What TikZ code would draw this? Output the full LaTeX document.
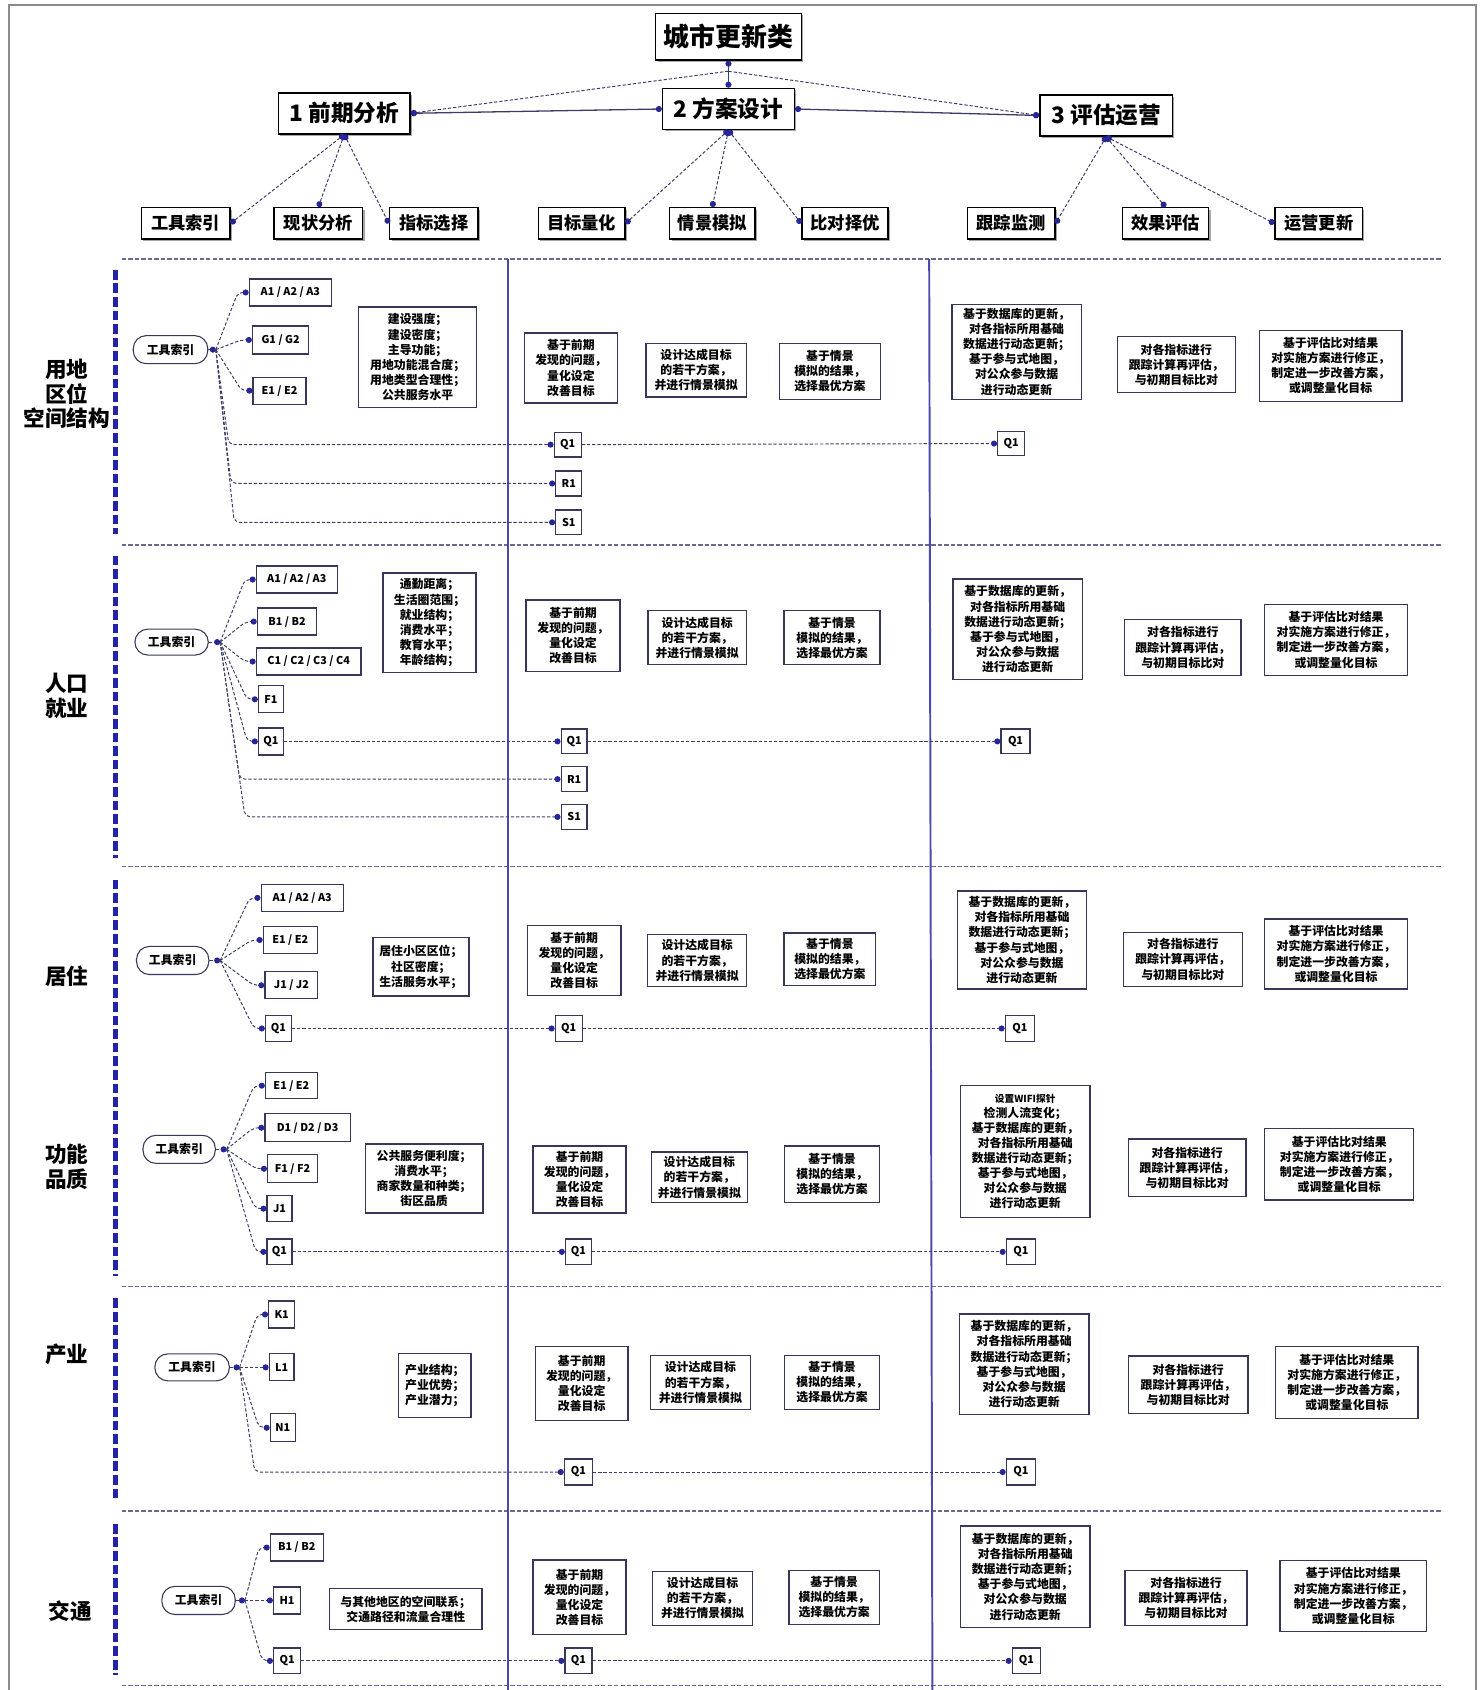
\documentclass[tikz,border=0pt]{standalone}
\usepackage{fontspec}
\setmainfont{Noto Sans CJK SC}
\usetikzlibrary{arrows.meta,shadows}

\definecolor{dotcol}{RGB}{38,38,150}
\definecolor{linkcol}{RGB}{60,60,105}
\definecolor{barcol}{RGB}{35,35,165}
\definecolor{colcol}{RGB}{75,75,175}
\definecolor{rulecol}{RGB}{105,105,145}
\definecolor{boxcol}{RGB}{55,55,90}

\newcommand{\goaltext}{基于前期\\发现的问题，\\量化设定\\改善目标}
\newcommand{\plantext}{设计达成目标\\的若干方案，\\并进行情景模拟}
\newcommand{\picktext}{基于情景\\模拟的结果，\\选择最优方案}
\newcommand{\datatext}{基于数据库的更新，\\对各指标所用基础\\数据进行动态更新；\\基于参与式地图，\\对公众参与数据\\进行动态更新}
\newcommand{\evaltext}{对各指标进行\\跟踪计算再评估，\\与初期目标比对}
\newcommand{\fixtext}{基于评估比对结果\\对实施方案进行修正，\\制定进一步改善方案，\\或调整量化目标}

\tikzset{
  Bead/.tip={Circle[length=2.8pt,color=dotcol]},
  sz/.style 2 args={minimum width=#1*0.5pt,minimum height=#2*0.5pt},
  link/.style={draw=linkcol,line width=0.45pt,dash pattern=on 1.5pt off 0.9pt,rounded corners=2.5pt},
  hline/.style={draw=linkcol,line width=0.6pt},
  headbox/.style={draw=black,line width=0.7pt,fill=white,
    drop shadow={shadow xshift=0.9pt,shadow yshift=-0.9pt,fill=black!35,opacity=1}},
  titlebox/.style={headbox,font=\bfseries\fontsize{12}{14}\selectfont},
  phasebox/.style={headbox,font=\bfseries\fontsize{10.5}{12}\selectfont},
  stagebox/.style={headbox,font=\bfseries\fontsize{8}{10}\selectfont},
  sectlabel/.style={font=\bfseries\fontsize{10}{11.5}\selectfont},
  toolpill/.style={draw=boxcol,line width=0.5pt,rounded corners=6pt,font=\bfseries\fontsize{5.5}{7}\selectfont},
  codebox/.style={draw=boxcol,line width=0.6pt,font=\bfseries\fontsize{5}{6}\selectfont},
  textbox/.style={draw=boxcol,line width=0.6pt,font=\bfseries\fontsize{5.5}{7}\selectfont},
  sectbar/.style={draw=barcol,line width=2.2pt,dash pattern=on 4.5pt off 1.8pt},
  sepline/.style={draw=rulecol,line width=0.6pt,dash pattern=on 2pt off 1pt},
  colline/.style={draw=colcol,line width=0.9pt}
}
\tikzstyle{every node}=[inner sep=1pt,align=center]

\begin{document}
\begin{tikzpicture}[x=0.5pt,y=-0.5pt]
    \useasboundingbox (0,0) rectangle (1372,1566);
    \draw[black!45,line width=1pt] (8,1566) -- (8,5) -- (1368,5) -- (1368,1566);

    % header
    \node[titlebox,sz={135}{43}] (top) at (675,34) {城市更新类};
    \node[phasebox,sz={122}{38}] (p1) at (319,105) {1 前期分析};
    \node[phasebox,sz={122}{38}] (p2) at (675,101) {2 方案设计};
    \node[phasebox,sz={123}{38}] (p3) at (1025,107) {3 评估运营};
    \node[stagebox,sz={82}{29}] (s1) at (172,207) {工具索引};
    \node[stagebox,sz={82}{29}] (s2) at (295,207) {现状分析};
    \node[stagebox,sz={82}{29}] (s3) at (402,207) {指标选择};
    \node[stagebox,sz={80}{29}] (s4) at (539,207) {目标量化};
    \node[stagebox,sz={79}{29}] (s5) at (660,207) {情景模拟};
    \node[stagebox,sz={80}{29}] (s6) at (783,207) {比对择优};
    \node[stagebox,sz={81}{29}] (s7) at (937,207) {跟踪监测};
    \node[stagebox,sz={80}{29}] (s8) at (1080,207) {效果评估};
    \node[stagebox,sz={81}{29}] (s9) at (1222,207) {运营更新};
    \coordinate (tj) at (675,66);
    \draw[hline,Bead-] (top.south) -- (tj);
    \draw[hline,-Bead] (tj) -- (p2.north);
    \draw[link,-Bead] (tj) -- (p1.east);
    \draw[link,-Bead] (tj) -- (p3.west);
    \draw[hline,Bead-Bead] (p1.east) -- (p2.west);
    \draw[hline,Bead-Bead] (p2.east) -- (p3.west);
    \draw[link,Bead-Bead] (p1.south) -- (s1.east);
    \draw[link,Bead-Bead] (p1.south) -- (s2.north);
    \draw[link,Bead-Bead] (p1.south) -- (s3.west);
    \draw[link,Bead-Bead] (p2.south) -- (s4.east);
    \draw[link,Bead-Bead] (p2.south) -- (s5.north);
    \draw[link,Bead-Bead] (p2.south) -- (s6.west);
    \draw[link,Bead-Bead] (p3.south) -- (s7.east);
    \draw[link,Bead-Bead] (p3.south) -- (s8.north);
    \draw[link,Bead-Bead] (p3.south) -- (s9.west);

    % frame of the table
    \draw[sepline] (113,240) -- (1335,240);
    \draw[sepline] (113,505) -- (1337,505);
    \draw[sepline] (113,803) -- (1337,803);
    \draw[sepline] (113,1192) -- (1337,1192);
    \draw[sepline] (113,1400) -- (1337,1400);
    \draw[sepline] (113,1562) -- (1337,1562);
    \draw[colline] (471,240) -- (471,1566);
    \draw[colline] (861,240) -- (864,1566);
    \draw[sectbar] (107,250) -- (107,495);
    \draw[sectbar] (107,515) -- (107,795);
    \draw[sectbar] (107,815) -- (107,1182);
    \draw[sectbar] (107,1203) -- (107,1390);
    \draw[sectbar] (107,1412) -- (107,1552);

    % 用地 区位 空间结构
    \node[sectlabel] (l1) at (62,365) {用地\\区位\\空间结构};
    \node[toolpill,sz={69}{26}] (g1) at (158,324) {工具索引};
    \coordinate (g1h) at (200,324);
    \node[codebox,sz={76}{25}] (g1a) at (269,271) {A1 / A2 / A3};
    \node[codebox,sz={52}{26}] (g1g) at (260,315) {G1 / G2};
    \node[codebox,sz={49}{25}] (g1e) at (259,362) {E1 / E2};
    \node[textbox,sz={109}{93}] (g1i) at (387,331) {建设强度；\\建设密度；\\主导功能；\\用地功能混合度；\\用地类型合理性；\\公共服务水平};
    \node[codebox,sz={25}{23}] (g1qm) at (526,412) {Q1};
    \node[codebox,sz={24}{23}] (g1r) at (527,448) {R1};
    \node[codebox,sz={24}{23}] (g1s) at (527,484) {S1};
    \node[codebox,sz={25}{22}] (g1qr) at (937,411) {Q1};
    \node[textbox,sz={86}{65}] (g1m1) at (529,341) {\goaltext};
    \node[textbox,sz={93}{50}] (g1m2) at (645,343) {\plantext};
    \node[textbox,sz={94}{52}] (g1m3) at (769,344) {\picktext};
    \node[textbox,sz={120}{88}] (g1r1) at (942,326) {\datatext};
    \node[textbox,sz={109}{52}] (g1r2) at (1090,338) {\evaltext};
    \node[textbox,sz={132}{66}] (g1r3) at (1233,339) {\fixtext};
    \draw[link,-Bead] (g1.east) -- (g1h);
    \draw[link,-Bead] (g1h) -- ([xshift=-5pt]g1a.west) -- (g1a.west);
    \draw[link,-Bead] (g1h) -- ([xshift=-5pt]g1g.west) -- (g1g.west);
    \draw[link,-Bead] (g1h) -- ([xshift=-5pt]g1e.west) -- (g1e.west);
    \draw[link,-Bead] (g1h) -- ([xshift=6pt]g1h |- g1qm.west) -- (g1qm.west);
    \draw[link,-Bead] (g1h) -- ([xshift=7pt]g1h |- g1r.west) -- (g1r.west);
    \draw[link,-Bead] (g1h) -- ([xshift=8.5pt]g1h |- g1s.west) -- (g1s.west);
    \draw[link,-Bead] (g1qm.east) -- (g1qr.west);

    % 人口 就业
    \node[sectlabel] (l2) at (62,645) {人口\\就业};
    \node[toolpill,sz={68}{24}] (g2) at (159,595) {工具索引};
    \coordinate (g2h) at (204,595);
    \node[codebox,sz={75}{25}] (g2a) at (275,537) {A1 / A2 / A3};
    \node[codebox,sz={55}{25}] (g2b) at (266,576) {B1 / B2};
    \node[codebox,sz={97}{25}] (g2c) at (286,613) {C1 / C2 / C3 / C4};
    \node[codebox,sz={23}{25}] (g2f) at (251,648) {F1};
    \node[codebox,sz={23}{25}] (g2q) at (251,687) {Q1};
    \node[textbox,sz={86}{92}] (g2i) at (398,577) {通勤距离；\\生活圈范围；\\就业结构；\\消费水平；\\教育水平；\\年龄结构；};
    \node[codebox,sz={24}{23}] (g2qm) at (532,687) {Q1};
    \node[codebox,sz={24}{23}] (g2r) at (532,722) {R1};
    \node[codebox,sz={24}{23}] (g2s) at (532,757) {S1};
    \node[codebox,sz={27}{23}] (g2qr) at (941,687) {Q1};
    \node[textbox,sz={87}{66}] (g2m1) at (531,589) {\goaltext};
    \node[textbox,sz={91}{50}] (g2m2) at (646,591) {\plantext};
    \node[textbox,sz={89}{50}] (g2m3) at (771,591) {\picktext};
    \node[textbox,sz={120}{93}] (g2r1) at (943,583) {\datatext};
    \node[textbox,sz={108}{52}] (g2r2) at (1096,600) {\evaltext};
    \node[textbox,sz={132}{66}] (g2r3) at (1238,593) {\fixtext};
    \draw[link,-Bead] (g2.east) -- (g2h);
    \draw[link,-Bead] (g2h) -- ([xshift=-5pt]g2a.west) -- (g2a.west);
    \draw[link,-Bead] (g2h) -- ([xshift=-5pt]g2b.west) -- (g2b.west);
    \draw[link,-Bead] (g2h) -- ([xshift=-5pt]g2c.west) -- (g2c.west);
    \draw[link,-Bead] (g2h) -- ([xshift=-5pt]g2f.west) -- (g2f.west);
    \draw[link,-Bead] (g2h) -- ([xshift=-5pt]g2q.west) -- (g2q.west);
    \draw[link,-Bead] (g2h) -- ([xshift=9pt]g2h |- g2r.west) -- (g2r.west);
    \draw[link,-Bead] (g2h) -- ([xshift=11.5pt]g2h |- g2s.west) -- (g2s.west);
    \draw[link,-Bead] (g2q.east) -- (g2qm.west);
    \draw[link,-Bead] (g2qm.east) -- (g2qr.west);

    % 居住
    \node[sectlabel] (l3) at (62,905) {居住};
    \node[toolpill,sz={67}{26}] (g3) at (160,890) {工具索引};
    \coordinate (g3h) at (204,890);
    \node[codebox,sz={76}{25}] (g3a) at (280,832) {A1 / A2 / A3};
    \node[codebox,sz={50}{25}] (g3e) at (269,871) {E1 / E2};
    \node[codebox,sz={49}{25}] (g3j) at (270,913) {J1 / J2};
    \node[codebox,sz={24}{24}] (g3q) at (258,953) {Q1};
    \node[textbox,sz={89}{54}] (g3i) at (390,896) {居住小区区位；\\社区密度；\\生活服务水平；};
    \node[codebox,sz={25}{24}] (g3qm) at (527,953) {Q1};
    \node[codebox,sz={27}{24}] (g3qr) at (945,953) {Q1};
    \node[textbox,sz={87}{65}] (g3m1) at (532,890) {\goaltext};
    \node[textbox,sz={92}{48}] (g3m2) at (646,890) {\plantext};
    \node[textbox,sz={85}{49}] (g3m3) at (769,889) {\picktext};
    \node[textbox,sz={120}{91}] (g3r1) at (947,871) {\datatext};
    \node[textbox,sz={110}{50}] (g3r2) at (1096,889) {\evaltext};
    \node[textbox,sz={132}{65}] (g3r3) at (1238,884) {\fixtext};
    \draw[link,-Bead] (g3.east) -- (g3h);
    \draw[link,-Bead] (g3h) -- ([xshift=-5pt]g3a.west) -- (g3a.west);
    \draw[link,-Bead] (g3h) -- ([xshift=-5pt]g3e.west) -- (g3e.west);
    \draw[link,-Bead] (g3h) -- ([xshift=-5pt]g3j.west) -- (g3j.west);
    \draw[link,-Bead] (g3h) -- ([xshift=-5pt]g3q.west) -- (g3q.west);
    \draw[link,-Bead] (g3q.east) -- (g3qm.west);
    \draw[link,-Bead] (g3qm.east) -- (g3qr.west);

    % 功能 品质
    \node[sectlabel] (l4) at (62,1081) {功能\\品质};
    \node[toolpill,sz={67}{26}] (g4) at (166,1065) {工具索引};
    \coordinate (g4h) at (210,1065);
    \node[codebox,sz={48}{24}] (g4e) at (270,1006) {E1 / E2};
    \node[codebox,sz={79}{26}] (g4d) at (285,1045) {D1 / D2 / D3};
    \node[codebox,sz={46}{26}] (g4f) at (271,1083) {F1 / F2};
    \node[codebox,sz={23}{24}] (g4j) at (259,1120) {J1};
    \node[codebox,sz={23}{24}] (g4q) at (259,1160) {Q1};
    \node[textbox,sz={109}{64}] (g4i) at (393,1092) {公共服务便利度；\\消费水平；\\商家数量和种类；\\街区品质};
    \node[codebox,sz={24}{24}] (g4qm) at (536,1160) {Q1};
    \node[codebox,sz={27}{24}] (g4qr) at (946,1160) {Q1};
    \node[textbox,sz={86}{62}] (g4m1) at (537,1093) {\goaltext};
    \node[textbox,sz={89}{47}] (g4m2) at (648,1091) {\plantext};
    \node[textbox,sz={88}{52}] (g4m3) at (771,1088) {\picktext};
    \node[textbox,sz={120}{122}] (g4r1) at (950,1067) {\fontsize{4.5}{6}\selectfont 设置WIFI探针\\检测人流变化；\\\fontsize{5.5}{7}\selectfont\datatext};
    \node[textbox,sz={109}{53}] (g4r2) at (1100,1082) {\evaltext};
    \node[textbox,sz={138}{66}] (g4r3) at (1241,1079) {\fixtext};
    \draw[link,-Bead] (g4.east) -- (g4h);
    \draw[link,-Bead] (g4h) -- ([xshift=-5pt]g4e.west) -- (g4e.west);
    \draw[link,-Bead] (g4h) -- ([xshift=-5pt]g4d.west) -- (g4d.west);
    \draw[link,-Bead] (g4h) -- ([xshift=-5pt]g4f.west) -- (g4f.west);
    \draw[link,-Bead] (g4h) -- ([xshift=-5pt]g4j.west) -- (g4j.west);
    \draw[link,-Bead] (g4h) -- ([xshift=-5pt]g4q.west) -- (g4q.west);
    \draw[link,-Bead] (g4q.east) -- (g4qm.west);
    \draw[link,-Bead] (g4qm.east) -- (g4qr.west);

    % 产业
    \node[sectlabel] (l5) at (62,1255) {产业};
    \node[toolpill,sz={69}{25}] (g5) at (178,1267) {工具索引};
    \coordinate (g5h) at (222,1267);
    \node[codebox,sz={24}{25}] (g5k) at (261,1218) {K1};
    \node[codebox,sz={23}{25}] (g5l) at (261,1267) {L1};
    \node[codebox,sz={23}{26}] (g5n) at (262,1323) {N1};
    \node[textbox,sz={67}{59},align=left] (g5i) at (403,1284) {产业结构；\\产业优势；\\产业潜力；};
    \node[codebox,sz={26}{24}] (g5qm) at (536,1364) {Q1};
    \node[codebox,sz={27}{24}] (g5qr) at (946,1364) {Q1};
    \node[textbox,sz={86}{68}] (g5m1) at (539,1282) {\goaltext};
    \node[textbox,sz={93}{50}] (g5m2) at (649,1281) {\plantext};
    \node[textbox,sz={88}{50}] (g5m3) at (771,1281) {\picktext};
    \node[textbox,sz={120}{93}] (g5r1) at (949,1264) {\datatext};
    \node[textbox,sz={111}{53}] (g5r2) at (1101,1283) {\evaltext};
    \node[textbox,sz={132}{67}] (g5r3) at (1248,1281) {\fixtext};
    \draw[link,-Bead] (g5.east) -- (g5h);
    \draw[link,-Bead] (g5h) -- ([xshift=-5pt]g5k.west) -- (g5k.west);
    \draw[link,-Bead] (g5h) -- (g5l.west);
    \draw[link,-Bead] (g5h) -- ([xshift=-5pt]g5n.west) -- (g5n.west);
    \draw[link,-Bead] (g5h) -- ([xshift=7pt]g5h |- g5qm.west) -- (g5qm.west);
    \draw[link,-Bead] (g5qm.east) -- (g5qr.west);

    % 交通
    \node[sectlabel] (l6) at (65,1493) {交通};
    \node[toolpill,sz={68}{26}] (g6) at (184,1483) {工具索引};
    \coordinate (g6h) at (227,1483);
    \node[codebox,sz={49}{25}] (g6b) at (275,1434) {B1 / B2};
    \node[codebox,sz={25}{25}] (g6h1) at (266,1483) {H1};
    \node[codebox,sz={25}{24}] (g6q) at (266,1539) {Q1};
    \node[textbox,sz={141}{38}] (g6i) at (376,1491) {与其他地区的空间联系；\\交通路径和流量合理性};
    \node[codebox,sz={25}{24}] (g6qm) at (536,1539) {Q1};
    \node[codebox,sz={26}{24}] (g6qr) at (951,1539) {Q1};
    \node[textbox,sz={86}{69}] (g6m1) at (537,1480) {\goaltext};
    \node[textbox,sz={93}{50}] (g6m2) at (651,1481) {\plantext};
    \node[textbox,sz={84}{50}] (g6m3) at (773,1480) {\picktext};
    \node[textbox,sz={120}{94}] (g6r1) at (950,1461) {\datatext};
    \node[textbox,sz={113}{51}] (g6r2) at (1099,1481) {\evaltext};
    \node[textbox,sz={136}{66}] (g6r3) at (1254,1479) {\fixtext};
    \draw[link,-Bead] (g6.east) -- (g6h);
    \draw[link,-Bead] (g6h) -- ([xshift=-5pt]g6b.west) -- (g6b.west);
    \draw[link,-Bead] (g6h) -- (g6h1.west);
    \draw[link,-Bead] (g6h) -- ([xshift=-5pt]g6q.west) -- (g6q.west);
    \draw[link,-Bead] (g6q.east) -- (g6qm.west);
    \draw[link,-Bead] (g6qm.east) -- (g6qr.west);
\end{tikzpicture}
\end{document}
